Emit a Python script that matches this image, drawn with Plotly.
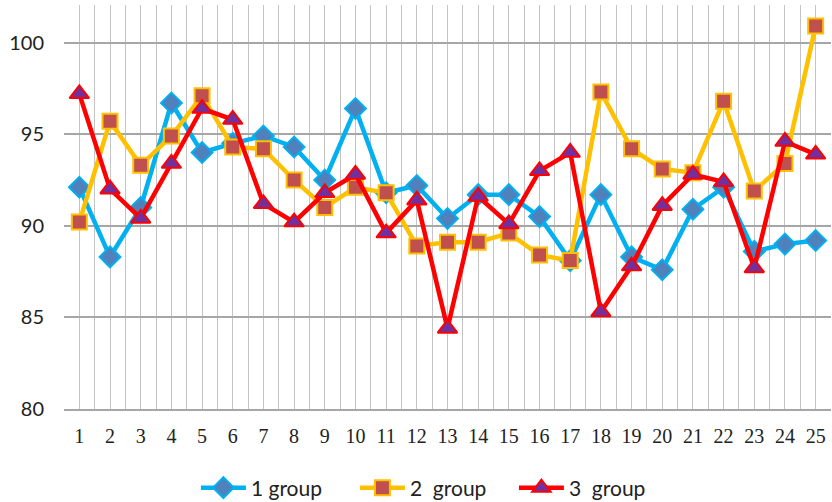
import plotly.graph_objects as go

categories = list(range(1, 26))
group1 = [92.1, 88.3, 91.0, 96.7, 94.0, 94.5, 94.9, 94.3, 92.5, 96.4, 91.8, 92.2, 90.4,
          91.7, 91.7, 90.5, 88.1, 91.7, 88.3, 87.6, 90.9, 92.1, 88.6, 89.0, 89.2]
group2 = [90.2, 95.7, 93.3, 94.9, 97.1, 94.3, 94.2, 92.5, 91.0, 92.1, 91.8, 88.9, 89.1,
          89.1, 89.6, 88.4, 88.1, 97.3, 94.2, 93.1, 92.9, 96.8, 91.9, 93.4, 100.9]
group3 = [97.2, 92.0, 90.4, 93.4, 96.4, 95.8, 91.2, 90.2, 91.8, 92.8, 89.6, 91.4, 84.4,
          91.6, 90.1, 93.0, 94.0, 85.3, 87.8, 91.1, 92.8, 92.4, 87.7, 94.6, 93.9]
series_names = ["1 group", "2  group", "3  group"]
y_ticks = [80, 85, 90, 95, 100]

# gridlines at every category and every category boundary
grid_vals = sorted([c - 0.5 for c in categories] + categories + [categories[-1] + 0.5])
grid_text = [str(int(v)) if float(v).is_integer() else "" for v in grid_vals]

fig = go.Figure()
fig.add_trace(go.Scatter(
    x=categories, y=group1, name=series_names[0], mode="lines+markers",
    line=dict(color="#00B0F0", width=4.5),
    marker=dict(symbol="diamond", size=16, color="#4F81BD",
                line=dict(color="#00B0F0", width=2))))
fig.add_trace(go.Scatter(
    x=categories, y=group2, name=series_names[1], mode="lines+markers",
    line=dict(color="#FFC000", width=4.5),
    marker=dict(symbol="square", size=15, color="#C0504D",
                line=dict(color="#FFC000", width=2))))
fig.add_trace(go.Scatter(
    x=categories, y=group3, name=series_names[2], mode="lines+markers",
    line=dict(color="#FF0000", width=4.5),
    marker=dict(symbol="triangle-up", size=17, color="#7030A0",
                line=dict(color="#FF0000", width=2))))

fig.update_layout(
    width=832, height=502,
    margin=dict(l=64, r=1, t=5, b=93, autoexpand=False),
    paper_bgcolor="white", plot_bgcolor="white",
    showlegend=True,
    legend=dict(orientation="h", x=0.172, xanchor="left",
                y=-0.1955, yanchor="middle",
                font=dict(family="Lato", size=21, color="#222"),
                itemwidth=45, entrywidth=99, entrywidthmode="pixels",
                tracegroupgap=0),
)
fig.update_xaxes(
    range=[0.5, 25.5], tickmode="array", tickvals=grid_vals, ticktext=grid_text,
    tickfont=dict(family="Liberation Serif", size=20, color="#222"),
    showgrid=True, gridcolor="#C4C4C4", gridwidth=1,
    showline=True, linecolor="#A6A6A6", linewidth=1.5,
    ticks="", ticklabelstandoff=8, zeroline=False, automargin=False)
fig.update_yaxes(
    range=[80, 102.05], tickmode="array", tickvals=y_ticks,
    tickfont=dict(family="Lato", size=20, color="#222"),
    showgrid=True, gridcolor="#A6A6A6", gridwidth=1.5,
    ticks="", ticklabelstandoff=19, zeroline=False, showline=False, automargin=False)

fig.write_html("out.html", config={"displayModeBar": False},
               post_script="document.body.style.margin='0';document.body.style.padding='0';")
